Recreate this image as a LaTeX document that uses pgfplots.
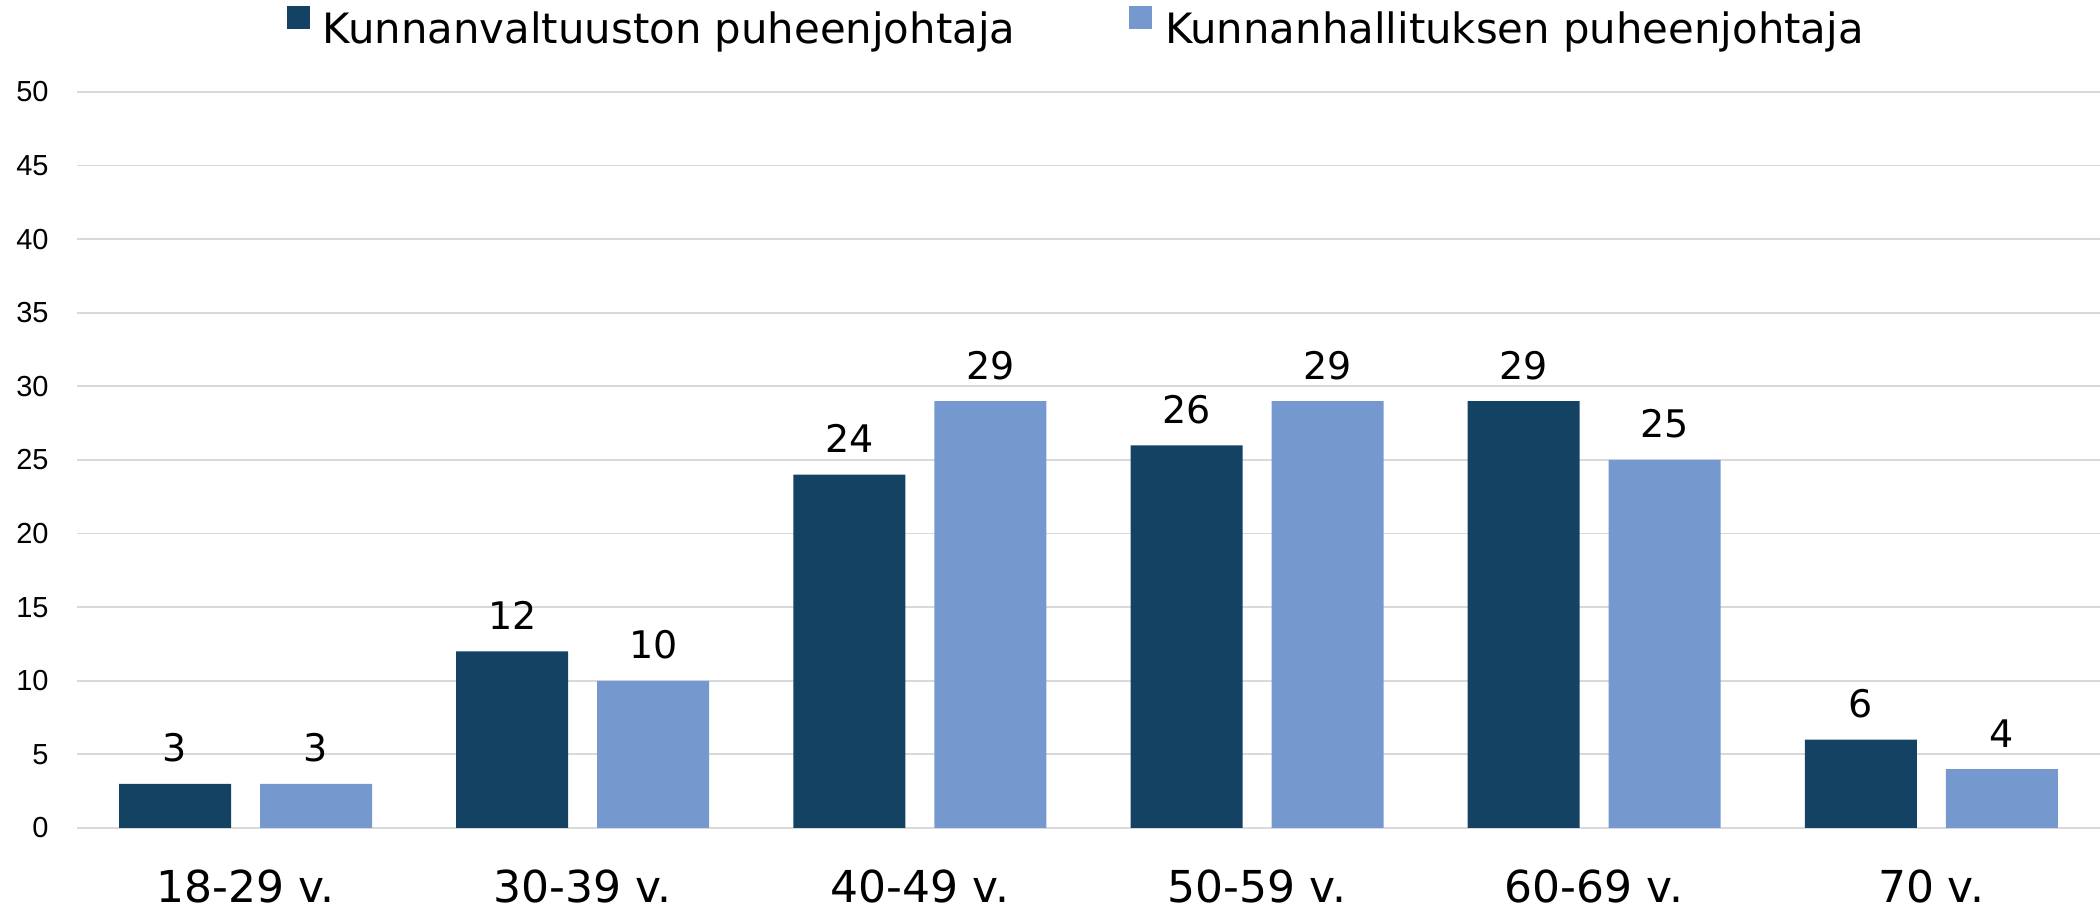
\documentclass[border=0pt]{standalone}
\usepackage{fontspec}
\setmainfont{DejaVu Sans}
\newfontfamily\tickfont{Liberation Sans}
\usepackage{pgfplots}
\pgfplotsset{compat=1.18}
\definecolor{darkbar}{HTML}{134263}
\definecolor{lightbar}{HTML}{7599CF}
\definecolor{gridgray}{HTML}{D9D9D9}
\begin{document}
\begin{tikzpicture}
\begin{axis}[
  at={(0,0)}, anchor=south west,
  scale only axis,
  width=1011.5bp, height=368bp,
  xmin=-0.5, xmax=5.5, ymin=0, ymax=50,
  enlargelimits=false,
  ybar, bar width=56bp,
  xtick={0,1,2,3,4,5},
  xticklabels={{18-29 v.},{30-39 v.},{40-49 v.},{50-59 v.},{60-69 v.},{70 v.}},
  ytick={0,5,...,50},
  major tick length=0pt,
  axis line style={draw=none},
  ymajorgrids,
  grid style={gridgray, line width=0.9bp},
  /pgf/number format/assume math mode=true,
  yticklabel style={font=\tickfont\fontsize{14.5bp}{17bp}\selectfont, anchor=east, inner sep=0pt, xshift=-14bp},
  xticklabel style={font=\fontsize{22bp}{26bp}\selectfont, anchor=base, inner sep=0pt, yshift=-37bp},
  nodes near coords,
  every node near coord/.append style={font=\fontsize{19bp}{22bp}\selectfont, anchor=base, inner sep=0pt, yshift=11bp, text=black},
  legend columns=2,
  legend style={at={(axis description cs:0.1038,1.0625)}, anchor=south west, draw=none, fill=none,
    inner sep=0pt, outer sep=0pt,
    font=\fontsize{20.9bp}{24bp}\selectfont,
    nodes={inner sep=0pt},
    /tikz/every odd column/.append style={column sep=6.5bp},
    /tikz/every even column/.append style={column sep=57bp}},
  legend cell align=left,
]
\addplot[fill=darkbar, draw=none, bar shift=-35.25bp,
  legend image code/.code={\fill[darkbar] (0bp,0bp) rectangle (11.5bp,11.5bp);}]
  coordinates {(0,3) (1,12) (2,24) (3,26) (4,29) (5,6)};
\addlegendentry{Kunnanvaltuuston puheenjohtaja}
\addplot[fill=lightbar, draw=none, bar shift=35.25bp,
  legend image code/.code={\fill[lightbar] (0bp,0bp) rectangle (11.5bp,11.5bp);}]
  coordinates {(0,3) (1,10) (2,29) (3,29) (4,25) (5,4)};
\addlegendentry{Kunnanhallituksen puheenjohtaja}
\end{axis}
\pgfresetboundingbox
\useasboundingbox (-38.5bp,-41bp) rectangle (1011.5bp,414bp);
\end{tikzpicture}
\end{document}
